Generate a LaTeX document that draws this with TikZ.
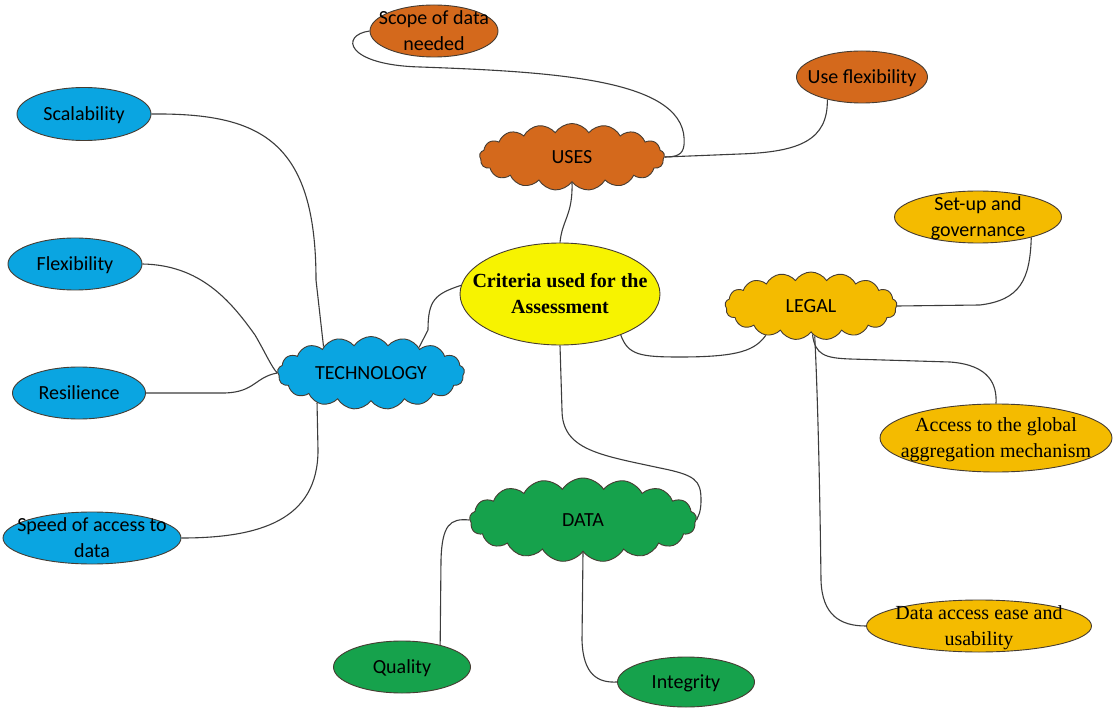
\documentclass[tikz,border=0pt]{standalone}
\usepackage{fontspec}
\setmainfont{Carlito}
\newfontfamily\serifface{Liberation Serif}
\usetikzlibrary{shapes.geometric,shapes.symbols,backgrounds}

\definecolor{orangeC}{RGB}{212,105,28}
\definecolor{goldC}{RGB}{244,187,0}
\definecolor{blueC}{RGB}{10,165,225}
\definecolor{greenC}{RGB}{22,162,76}
\definecolor{yellowC}{RGB}{247,243,0}
\definecolor{edgeC}{RGB}{70,60,50}
\definecolor{wireC}{RGB}{60,60,60}

% centred text of fixed (zero) size, so the shape size is set by its own keys
\newcommand\btext[1]{\makebox[0pt]{\smash{\raisebox{-0.32em}{\begin{tabular}{@{}c@{}}#1\end{tabular}}}}}

\tikzset{
  bubble/.style={ellipse, inner sep=0pt, draw=edgeC, line width=0.9pt},
  puffy/.style={cloud, cloud puffs=17, cloud puff arc=115, aspect=2.2,
    inner sep=0pt, draw=edgeC, line width=0.9pt},
  wire/.style={draw=wireC, line width=1.1pt},
}

\begin{document}
\begin{tikzpicture}[x=1pt, y=-1pt, font=\fontsize{20}{26}\selectfont]
\useasboundingbox (0,0) rectangle (1113,708);

% central topic
\node[bubble, fill=yellowC, minimum width=200, minimum height=102] (crit) at (560,294)
  {\btext{\serifface\bfseries Criteria used for the\\\serifface\bfseries Assessment}};

% USES branch
\node[puffy, fill=orangeC, minimum width=185, minimum height=67] (uses) at (572,157) {\btext{USES}};
\node[bubble, fill=orangeC, minimum width=128, minimum height=52] (scope) at (434,31) {\btext{Scope of data\\needed}};
\node[bubble, fill=orangeC, minimum width=131, minimum height=52] (useflex) at (862,77) {\btext{Use flexibility}};

% LEGAL branch
\node[puffy, fill=goldC, minimum width=172, minimum height=68] (legal) at (811,306) {\btext{LEGAL}};
\node[bubble, fill=goldC, minimum width=167, minimum height=52] (setup) at (978,217) {\btext{Set-up and\\governance}};
\node[bubble, fill=goldC, minimum width=232, minimum height=68] (access) at (996,438)
  {\btext{\serifface Access to the global\\\serifface aggregation mechanism}};
\node[bubble, fill=goldC, minimum width=225, minimum height=52] (dataacc) at (979,626)
  {\btext{\serifface Data access ease and\\\serifface usability}};

% TECHNOLOGY branch
\node[puffy, fill=blueC, minimum width=187, minimum height=73] (tech) at (371,373) {\btext{TECHNOLOGY}};
\node[bubble, fill=blueC, minimum width=134, minimum height=53] (scal) at (84,114) {\btext{Scalability}};
\node[bubble, fill=blueC, minimum width=134, minimum height=52] (flex) at (75,264) {\btext{Flexibility}};
\node[bubble, fill=blueC, minimum width=133, minimum height=52] (resil) at (79,393) {\btext{Resilience}};
\node[bubble, fill=blueC, minimum width=178, minimum height=52] (speed) at (92,538) {\btext{Speed of access to\\data}};

% DATA branch
\node[puffy, fill=greenC, minimum width=227, minimum height=84] (data) at (583,520) {\btext{DATA}};
\node[bubble, fill=greenC, minimum width=137, minimum height=52] (qual) at (402,667) {\btext{Quality}};
\node[bubble, fill=greenC, minimum width=137, minimum height=50] (integ) at (686,682) {\btext{Integrity}};

\begin{scope}[on background layer]
  \fill[white] (0,0) rectangle (1113,708);
  % USES
  \draw[wire] (scope.west) .. controls (340,35) and (345,65) .. (420,67)
    .. controls (560,72) and (690,80) .. (684,145)
    .. controls (683,155) and (676,157) .. (uses.east);
  \draw[wire] (useflex.213) .. controls (828,140) and (800,152) .. (740,154) -- (uses.east);
  \draw[wire] (uses.south) .. controls (573,215) and (562,220) .. (crit.north);
  % TECHNOLOGY
  \draw[wire] (crit.175) .. controls (435,294) and (428,300) .. (428,330) -- (tech.28);
  \draw[wire] (tech.151) -- (316,280) .. controls (316,140) and (260,113) .. (scal.east);
  \draw[wire] (flex.east) .. controls (200,265) and (230,300) .. (255,335)
    .. controls (265,352) and (272,368) .. (tech.west);
  \draw[wire] (resil.east) -- (225,393) .. controls (255,392) and (255,377) .. (tech.west);
  \draw[wire] (tech.209) -- (318,450) .. controls (318,520) and (260,538) .. (speed.east);
  % LEGAL
  \draw[wire] (crit.-34) .. controls (628,355) and (640,357) .. (680,357)
    .. controls (740,357) and (755,350) .. (legal.213);
  \draw[wire] (legal.east) -- (980,305) .. controls (1020,300) and (1030,280) .. (setup.-21);
  \draw[wire] (legal.-87) .. controls (815,355) and (825,358) .. (850,359) -- (950,362)
    .. controls (990,365) and (997,385) .. (access.north);
  \draw[wire] (legal.-83) .. controls (818,400) and (820,500) .. (821,580)
    .. controls (822,615) and (840,626) .. (dataacc.west);
  % DATA
  \draw[wire] (crit.south) -- (562,410) .. controls (562,450) and (600,455) .. (660,468)
    .. controls (695,475) and (701,480) .. (701,500)
    .. controls (701,515) and (697,517) .. (data.east);
  \draw[wire] (data.west) .. controls (450,518) and (442,525) .. (441,560) -- (qual.30);
  \draw[wire] (data.south) -- (582,640) .. controls (583,675) and (598,683) .. (integ.west);
\end{scope}
\end{tikzpicture}
\end{document}
